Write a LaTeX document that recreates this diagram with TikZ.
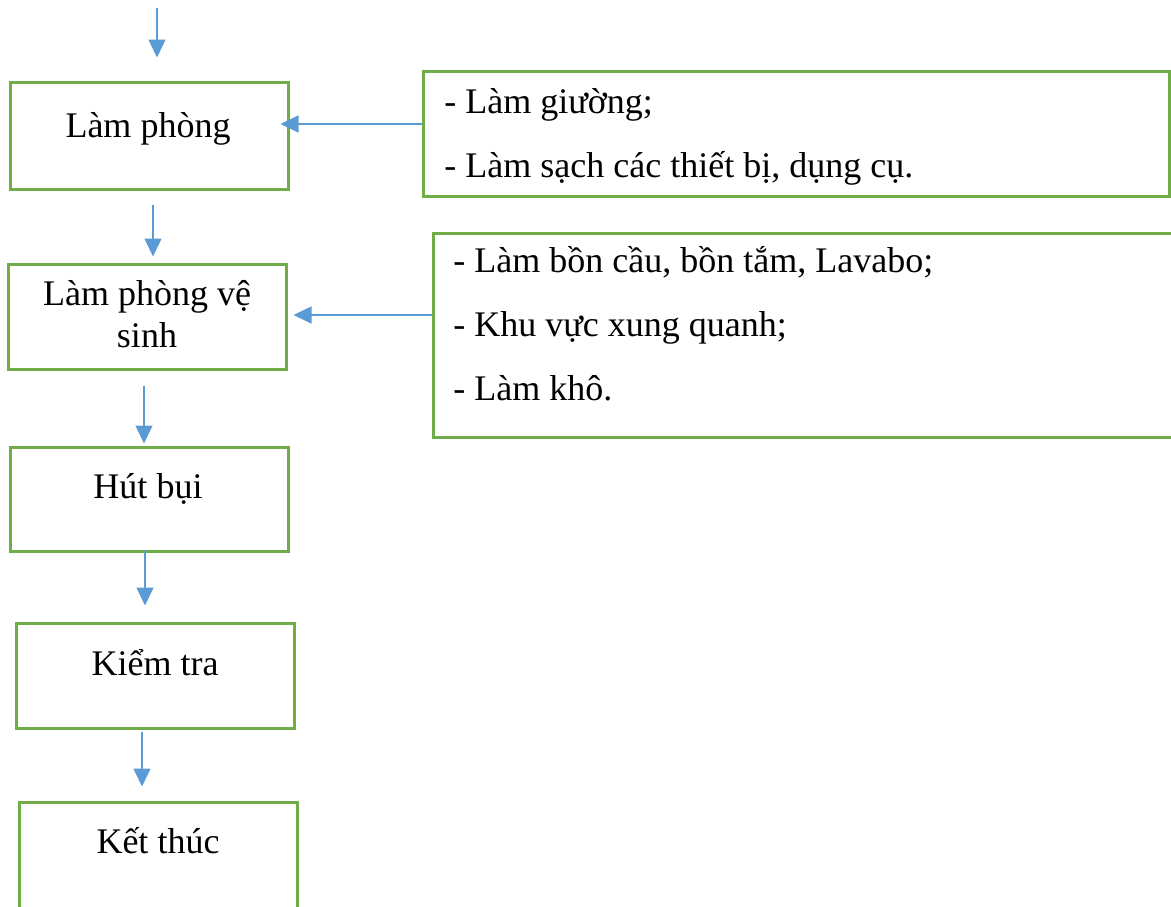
\documentclass[tikz,border=0pt]{standalone}
\usepackage{fontspec}
\setmainfont{Liberation Serif}
\usepackage{xcolor}
\usepackage{tikz}
\usetikzlibrary{arrows.meta,shapes}
\definecolor{khung}{HTML}{70AD47}
\definecolor{muiten}{HTML}{5B9BD5}
\newcommand{\boxw}{139pt}
\newcommand{\khungw}{1.5pt}

\begin{document}
\begin{tikzpicture}[x=0.5pt, y=-0.5pt,
                buoc/.style={draw=khung, line width=\khungw, minimum width=\boxw, inner sep=0pt},
                ghichu/.style={draw=khung, line width=\khungw, inner sep=0pt},
                chu/.style={inner sep=0pt, align=center, font=\fontsize{18}{21}\selectfont},
                dong/.style={inner sep=0pt, align=left, font=\fontsize{18}{32}\selectfont},
                noi/.style={draw=muiten, line width=0.75pt, -{Triangle[length=9pt, width=8.5pt]}}]
                %\draw[help lines] (0,0) grid[step=50] (1171,906);
                \useasboundingbox (0,0) rectangle (1171,906);
                \node[buoc, minimum height=53.5pt] (lamphong) at (149,135.5) {};
                \node[buoc, minimum height=52.5pt] (vesinh) at (147,316.5) {};
                \node[buoc, minimum height=52pt] (hutbui) at (149,499) {};
                \node[buoc, minimum height=52.5pt] (kiemtra) at (155,675.5) {};
                \node[buoc, minimum height=53pt] (ketthuc) at (158,855) {};
                \node[ghichu, minimum width=373pt, minimum height=62.5pt] (ghichu1) at (796,133.5) {};
                \node[ghichu, minimum width=374pt, minimum height=102pt] (ghichu2) at (807,335) {};
                % multi-line texts sit on the baseline of their last line
                \node[chu, anchor=base] (t-lamphong) at (148,137) {Làm phòng};
                \node[chu, anchor=base] (t-vesinh) at (147,347) {Làm phòng vệ\\sinh};
                \node[chu, anchor=base] (t-hutbui) at (148,498) {Hút bụi};
                \node[chu, anchor=base] (t-kiemtra) at (155,675) {Kiểm tra};
                \node[chu, anchor=base] (t-ketthuc) at (158,853) {Kết thúc};
                \node[dong, anchor=base west] (t-ghichu1) at (444,177) {- Làm giường;\\- Làm sạch các thiết bị, dụng cụ.};
                \node[dong, anchor=base west] (t-ghichu2) at (453,400) {- Làm bồn cầu, bồn tắm, Lavabo;\\- Khu vực xung quanh;\\- Làm khô.};
                \coordinate (vao) at (157,8);
                \draw[noi] (vao) -- ([shift={(8,-23)}]lamphong.north);
                \draw[noi] ([shift={(4,14)}]lamphong.south) -- ([shift={(6,-6)}]vesinh.north);
                \draw[noi] ([shift={(-3,15)}]vesinh.south) -- ([shift={(-5,-2)}]hutbui.north);
                \draw[noi] ([shift={(-4,-3)}]hutbui.south) -- ([shift={(-10,-16)}]kiemtra.north);
                \draw[noi] ([shift={(-13,2)}]kiemtra.south) -- ([shift={(-16,-14)}]ketthuc.north);
                \draw[noi] ([shift={(0,-9.5)}]ghichu1.west) -- ([shift={(-9,-11.5)}]lamphong.east);
                \draw[noi] ([shift={(0,-20)}]ghichu2.west) -- ([shift={(6,-1.5)}]vesinh.east);
        \end{tikzpicture}
\end{document}
